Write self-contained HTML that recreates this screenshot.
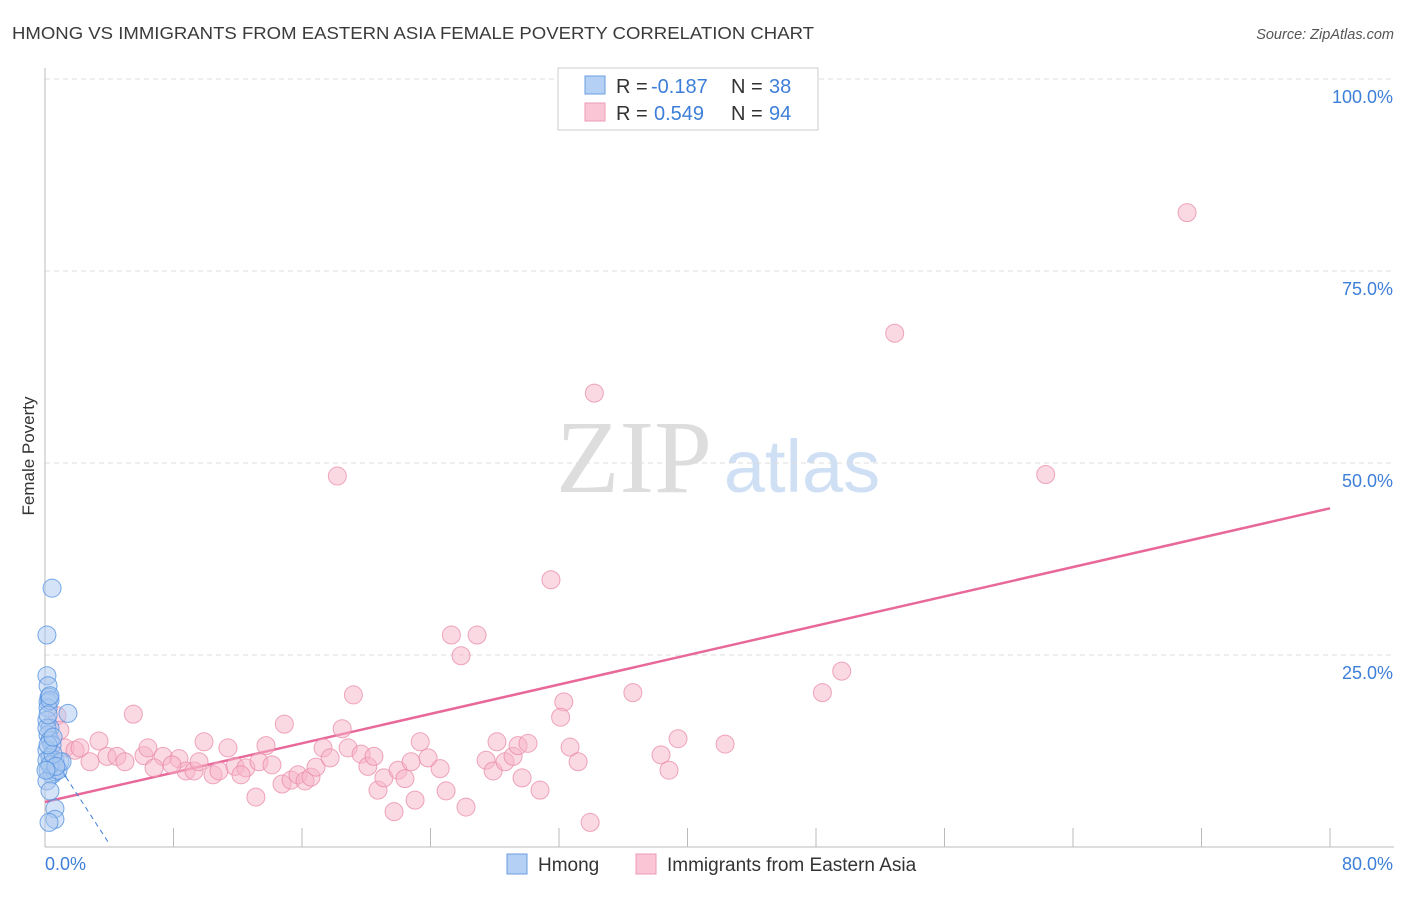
<!DOCTYPE html>
<html><head><meta charset="utf-8"><style>
body{margin:0;background:#fff;font-family:"Liberation Sans",sans-serif;}
</style></head><body>
<svg id="chart" width="1406" height="892" xmlns="http://www.w3.org/2000/svg">
<text x="12" y="39" font-size="17.5" fill="#3a3a3a" textLength="802" lengthAdjust="spacingAndGlyphs">HMONG VS IMMIGRANTS FROM EASTERN ASIA FEMALE POVERTY CORRELATION CHART</text>
<text x="1394" y="39" font-size="14.5" fill="#555" font-style="italic" text-anchor="end">Source: ZipAtlas.com</text>
<text x="34" y="456" font-size="17" fill="#333" transform="rotate(-90 34 456)" text-anchor="middle">Female Poverty</text>
<text x="634" y="492" font-size="104" fill="#ddd" font-family="Liberation Serif,serif" text-anchor="middle">ZIP</text>
<text x="802" y="492" font-size="74" fill="#cfe0f5" text-anchor="middle">atlas</text>
<g id="grid"></g><g id="axes"></g><g id="trend"></g><g id="points"></g>
<g>
<rect x="558" y="68" width="260" height="62" fill="#fff" stroke="#ccc"/>
<rect x="585" y="76" width="20" height="18" fill="#b5d0f5" stroke="#6a9ee0"/>
<rect x="585" y="103" width="20" height="18" fill="#fac6d6" stroke="#ec9ab5"/>
<g font-size="20" fill="#333">
<text x="616" y="93">R =</text><text x="651" y="93" fill="#3d7fd8">-0.187</text><text x="731" y="93">N =</text><text x="769" y="93" fill="#3d7fd8">38</text></g>
<g font-size="20" fill="#333">
<text x="616" y="120">R =</text><text x="654" y="120" fill="#3d7fd8">0.549</text><text x="731" y="120">N =</text><text x="769" y="120" fill="#3d7fd8">94</text></g>
</g>
<g>
<rect x="507" y="854" width="20" height="20" fill="#b5d0f5" stroke="#6a9ee0"/>
<text x="538" y="871" font-size="19" fill="#333">Hmong</text>
<rect x="636" y="854" width="20" height="20" fill="#fac6d6" stroke="#ec9ab5"/>
<text x="667" y="871" font-size="19" fill="#333">Immigrants from Eastern Asia</text>
</g>
</svg>
<script>
const xTicks=[0,8,16,24,32,40,48,56,64,72,80];
const yTicks=[25,50,75,100];
const yTickLabels=["25.0%","50.0%","75.0%","100.0%"];
const xTickLabels=["0.0%","80.0%"];
const hmongX=[0.44,0.12,0.12,0.19,0.25,0.19,0.19,0.31,1.43,0.12,0.31,0.19,0.31,0.44,0.12,0.31,0.62,0.93,0.19,0.44,0.62,0.12,0.31,0.62,0.62,0.25,0.81,0.12,0.31,1.06,0.5,0.19,0.12,0.5,0.19,0.31,0.68,0.06];
const hmongY=[33.7,27.6,22.3,21.0,19.5,18.9,18.1,19.1,17.4,16.5,15.5,14.6,13.9,13.3,12.6,11.6,11.3,11.1,10.0,9.4,9.8,8.6,7.3,5.0,3.6,3.2,10.0,11.3,10.7,11.1,12.1,13.3,15.5,14.3,17.2,19.7,10.5,10.0];
const asiaX=[71.1,52.9,34.2,18.2,62.3,31.5,25.3,26.9,25.9,19.2,36.6,49.6,48.4,32.3,32.1,5.5,14.9,18.5,0.75,0.93,1.25,1.87,3.36,2.18,2.8,3.86,4.48,4.98,6.16,6.41,7.35,8.34,8.78,9.28,6.79,7.91,9.9,9.59,10.46,10.83,11.39,11.83,12.51,12.2,13.32,13.76,14.13,13.13,14.76,15.32,15.75,16.19,16.56,16.87,17.31,17.75,18.87,19.68,20.1,20.48,20.73,21.1,21.98,22.41,22.79,23.36,23.85,24.6,24.97,21.73,23.04,26.21,27.46,27.9,28.14,28.64,29.14,29.45,30.07,29.7,30.82,32.69,33.19,33.94,38.35,38.85,39.41,42.34];
const asiaY=[82.6,66.9,59.1,48.3,48.5,34.8,27.6,27.6,24.9,19.8,20.1,22.9,20.1,18.9,16.9,17.3,16.0,15.4,17.1,15.2,12.9,12.6,13.8,12.9,11.1,11.8,11.8,11.1,11.9,12.9,11.8,11.5,9.9,9.9,10.3,10.7,13.7,11.1,9.4,9.9,12.9,10.5,10.3,9.4,11.1,13.2,10.7,6.5,8.2,8.7,9.4,8.6,9.1,10.4,12.9,11.6,12.9,12.1,10.5,11.8,7.4,9.0,10.0,8.9,11.1,13.7,11.6,10.2,7.3,4.6,6.1,5.2,11.3,9.9,13.7,11.1,11.8,13.2,13.5,9.0,7.4,13.0,11.1,3.2,12.0,10.0,14.1,13.4];
const hmongTrend=[0,13.3,4.05,0.26];
const asiaTrend=[0,5.86,80,44.1];
const NS='http://www.w3.org/2000/svg';
const X=v=>45+v*(1285/80), Y=v=>847-v*7.68;
function mk(t,a,p){const e=document.createElementNS(NS,t);for(const k in a)e.setAttribute(k,a[k]);document.getElementById(p).appendChild(e);return e;}
yTicks.forEach((t,i)=>{
 const g=mk('line',{x1:45,x2:1394,y1:Y(t),y2:Y(t),stroke:'#ddd','stroke-dasharray':'5,4'},'grid');
 
 
 const l=mk('text',{x:1393,y:Y(t)+24,'font-size':18,fill:'#3d7fd8','text-anchor':'end'},'axes');
 l.textContent=yTickLabels[i];
 
 
});
let a=mk('line',{x1:45,x2:45,y1:68,y2:847,stroke:'#bbb'},'axes');


a=mk('line',{x1:45,x2:1394,y1:847,y2:847,stroke:'#bbb'},'axes');


xTicks.forEach(t=>{const e=mk('line',{x1:X(t),x2:X(t),y1:828,y2:847,stroke:'#bbb'},'axes');
 
 });
[[0,'start',45],[1,'end',1393]].forEach(([i,anc,x])=>{const e=mk('text',{x:x,y:870,'font-size':18,fill:'#3d7fd8','text-anchor':anc},'axes');e.textContent=xTickLabels[i];
 
 });
function pts(xs,ys,fill,stroke,name){xs.forEach((x,i)=>{const c=mk('circle',{cx:X(x),cy:Y(ys[i]),r:9,fill:fill,'fill-opacity':0.5,stroke:stroke,'stroke-opacity':0.75,'stroke-width':1},'points');
 
 });}
pts(asiaX,asiaY,'#f7b3c8','#e889a8','point-eastern-asia');
pts(hmongX,hmongY,'#a9c8f0','#4f8fdf','point-hmong');
let t=mk('line',{x1:X(asiaTrend[0]),y1:Y(asiaTrend[1]),x2:X(asiaTrend[2]),y2:Y(asiaTrend[3]),stroke:'#e8689a','stroke-width':2.5},'trend');


const hs=(hmongTrend[3]-hmongTrend[1])/(hmongTrend[2]-hmongTrend[0]);
t=mk('line',{x1:X(0),y1:Y(hmongTrend[1]),x2:X(1.3),y2:Y(hmongTrend[1]+hs*1.3),stroke:'#3d7fd8','stroke-width':2},'trend');


t=mk('line',{x1:X(1.3),y1:Y(hmongTrend[1]+hs*1.3),x2:X(hmongTrend[2]),y2:Y(hmongTrend[3]),stroke:'#3d7fd8','stroke-width':1,'stroke-dasharray':'5,4'},'trend');


</script>
</body></html>
